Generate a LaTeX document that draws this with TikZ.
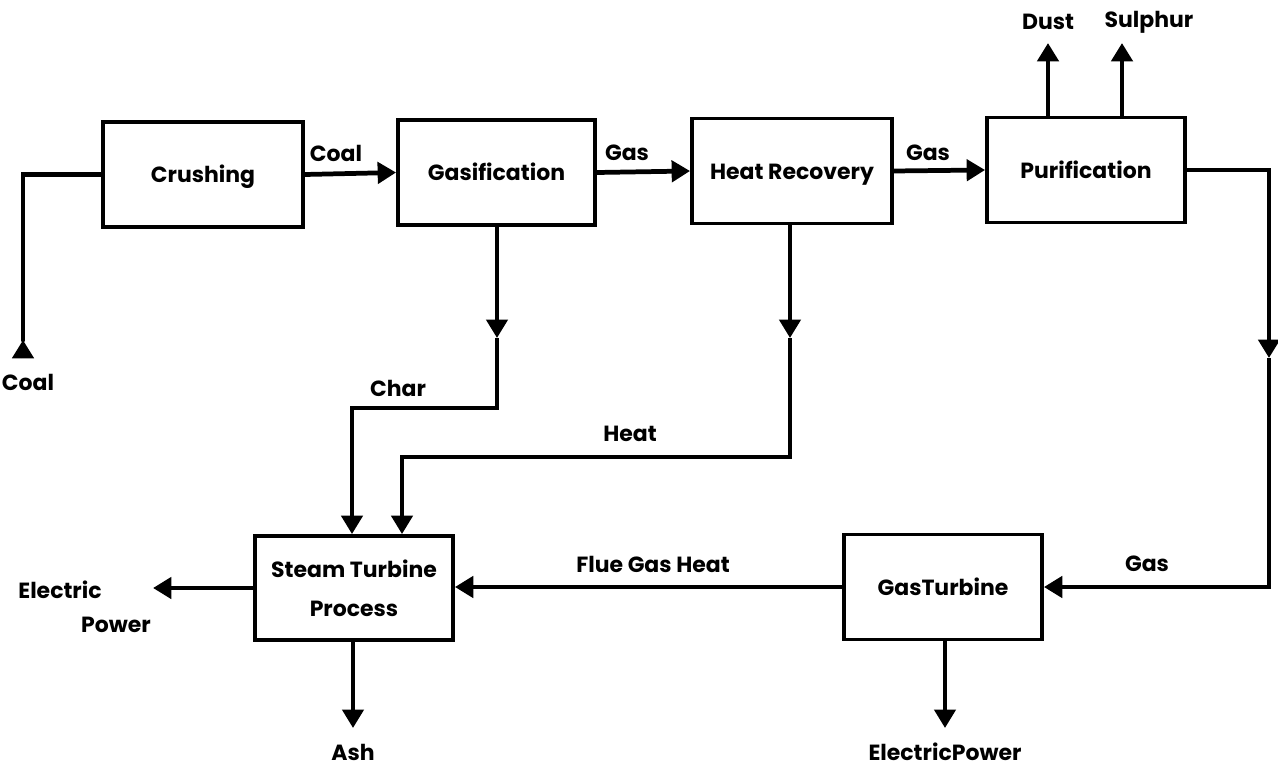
\documentclass[tikz,border=0pt]{standalone}
\usepackage{fontspec}
\setmainfont{Poppins}
\usetikzlibrary{arrows.meta,calc}
\begin{document}
\begin{tikzpicture}[x=0.02cm,y=-0.02cm,
  box/.style={draw,line width=2.2pt,minimum width=3.96cm,minimum height=2.1cm,inner sep=0pt,align=center,font=\fontsize{12.5}{22}\selectfont\bfseries},
  one/.style={text height=2.1ex,text depth=0.35ex},
  flow/.style={line width=2.7pt},
  arr/.style={flow,-{Triangle[length=10.5pt,width=12pt]}},
  lab/.style={font=\fontsize{12.5}{15}\selectfont\bfseries,inner sep=0pt}]
\useasboundingbox (0,0) rectangle (1278,770);
\node[box,one,minimum width=4cm] (crush) at (203,174.5) {Crushing};
\node[box,one,minimum width=3.94cm] (gasif) at (496.5,172.5) {Gasification};
\node[box,one,minimum width=4cm] (heat) at (792,171) {Heat Recovery};
\node[box,one] (purif) at (1086,170) {Purification};
\node[box,minimum height=2.08cm] (steam) at (354,588) {Steam Turbine\\Process};
\node[box,one] (gt) at (943,587) {GasTurbine};
% coal input
\coordinate (cinB) at (23,358);
\coordinate (cinT) at (23,340);
\draw[arr] (cinB) -- (cinT);
\draw[flow,line cap=round] (cinT) |- (crush.west);
\node[lab] (lcoal) at (28,382) {Coal};
% main line
\draw[arr] (crush.east) -- (gasif.west);
\node[lab] (lcoal2) at (336,153) {Coal};
\draw[arr] (gasif.east) -- (heat.west);
\node[lab] (lgas1) at (627,153) {Gas};
\draw[arr] (heat.east) -- (purif.west);
\node[lab] (lgas2) at (928,153) {Gas};
% dust, sulphur
\coordinate (dust) at (1048,43);
\coordinate (sulph) at (1122,43);
\draw[arr] (dust |- purif.north) -- (dust);
\draw[arr] (sulph |- purif.north) -- (sulph);
\node[lab] (ldust) at (1048,22) {Dust};
\node[lab] (lsulph) at (1149,22) {Sulphur};
% char
\coordinate (gm) at (497,338);
\coordinate (c2) at (352,408);
\draw[arr,line width=2.4pt] (gasif.south -| gm) -- (gm);
\draw[arr,line width=2.4pt] (gm) |- (c2) -- (c2 |- steam.north);
\node[lab] (lchar) at (398,388) {Char};
% heat
\coordinate (hm) at (790,338);
\coordinate (h2) at (402,457);
\draw[arr,line width=2.4pt] (heat.south -| hm) -- (hm);
\draw[arr,line width=2.4pt] (hm) |- (h2) -- (h2 |- steam.north);
\node[lab] (lheat) at (630,434) {Heat};
% purification to gas turbine
\coordinate (pm) at (1269,358);
\coordinate (p3) at (1269,587);
\draw[arr] (purif.east) -| (pm);
\draw[arr] (pm) -- (p3) -- (gt.east);
\node[lab] (lgas3) at (1147,564) {Gas};
% flue gas
\draw[arr] (gt.west) -- (steam.east |- gt.west);
\node[lab] (lflue) at (653,564) {Flue Gas Heat};
% outputs
\coordinate (ep1) at (153,588);
\draw[arr] (steam.west) -- (ep1);
\node[lab] (lelec) at (60,590) {Electric};
\node[lab] (lpow) at (116,625) {Power};
\coordinate (ash) at (353,728);
\draw[arr,line width=2.4pt] (steam.south -| ash) -- (ash);
\node[lab] (lash) at (353,752) {Ash};
\coordinate (ep2) at (945,728);
\draw[arr,line width=2.4pt] (gt.south -| ep2) -- (ep2);
\node[lab] (lep2) at (945,752) {ElectricPower};
\end{tikzpicture}
\end{document}
